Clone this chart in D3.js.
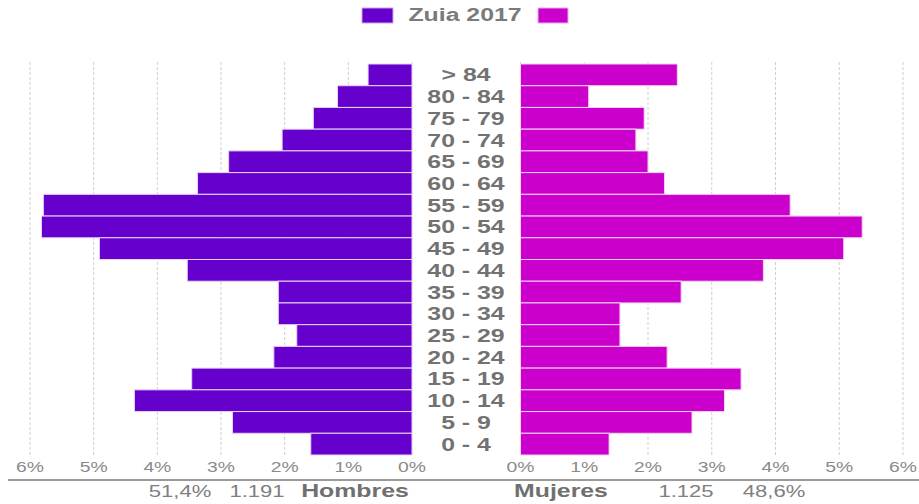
<!DOCTYPE html>
<meta charset="utf-8">
<script src="https://d3js.org/d3.v7.min.js"></script>
<style>
  body { margin: 0; background: #fff; }
  text { font-family: "Liberation Sans", Arial, sans-serif; }
</style>
<div id="chart"></div>
<script>

var ages = ["> 84", "80 - 84", "75 - 79", "70 - 74", "65 - 69", "60 - 64", "55 - 59", "50 - 54", "45 - 49",
            "40 - 44", "35 - 39", "30 - 34", "25 - 29", "20 - 24", "15 - 19", "10 - 14", "5 - 9", "0 - 4"]
var hombres = [0.69, 1.17, 1.55, 2.04, 2.88, 3.37, 5.79, 5.82, 4.91, 3.53, 2.10, 2.10, 1.81, 2.17, 3.46, 4.36, 2.82, 1.59]
var mujeres = [2.46, 1.07, 1.94, 1.81, 2.00, 2.26, 4.23, 5.36, 5.07, 3.81, 2.52, 1.56, 1.56, 2.30, 3.46, 3.20, 2.69, 1.39]
var tickValues = [0, 1, 2, 3, 4, 5, 6]
var legendTitle = "Zuia 2017"
var totH = ["51,4%", "1.191", "Hombres"]
var totM = ["Mujeres", "1.125", "48,6%"]

var width = 919, height = 504
var sx = 1.38  // text is drawn a bit wide
var cH = "#6600cc", cM = "#cc00cc"

var svg = d3.select("#chart").append("svg")
    .attr("width", width)
    .attr("height", height)

var y = d3.scaleBand().domain(ages).range([64, 455]).padding(0)
var xL = d3.scaleLinear().domain([0, 6]).range([412, 30])
var xR = d3.scaleLinear().domain([0, 6]).range([520.5, 903])

function place(x, yy) { return "translate(" + x + "," + yy + ") scale(" + sx + ",1)" }

// grid
;[xL, xR].forEach(function(x) {
  svg.append("g").selectAll("line")
    .data(tickValues)
    .enter().append("line")
      .attr("x1", function(d){ return x(d) })
      .attr("x2", function(d){ return x(d) })
      .attr("y1", 62)
      .attr("y2", 456)
      .attr("stroke", "#cfcfcf")
      .attr("stroke-width", 1)
      .attr("stroke-dasharray", "3,2")

  svg.append("g").selectAll("text")
    .data(tickValues)
    .enter().append("text")
      .attr("transform", function(d){ return place(x(d), 472) })
      .attr("text-anchor", "middle")
      .style("font-size", "14px")
      .style("fill", "#8a8a8a")
      .text(function(d){ return d + "%" })
})

// bars
svg.append("g").selectAll("rect")
  .data(hombres)
  .enter().append("rect")
    .attr("x", function(d){ return xL(d) })
    .attr("y", function(d, i){ return y(ages[i]) })
    .attr("width", function(d){ return xL(0) - xL(d) })
    .attr("height", y.bandwidth())
    .attr("fill", cH)
    .attr("stroke", "#e6d4f7")
    .attr("stroke-width", 1)

svg.append("g").selectAll("rect")
  .data(mujeres)
  .enter().append("rect")
    .attr("x", xR(0))
    .attr("y", function(d, i){ return y(ages[i]) })
    .attr("width", function(d){ return xR(d) - xR(0) })
    .attr("height", y.bandwidth())
    .attr("fill", cM)
    .attr("stroke", "#f3d4f3")
    .attr("stroke-width", 1)

// age labels
svg.append("g").selectAll("text")
  .data(ages)
  .enter().append("text")
    .attr("transform", function(d){ return place(466, y(d) + y.bandwidth() / 2 + 6.5) })
    .attr("text-anchor", "middle")
    .style("font-size", "18px")
    .style("font-weight", "bold")
    .style("fill", "#727272")
    .text(function(d){ return d })

// legend
svg.append("rect").attr("x", 362).attr("y", 8).attr("width", 31).attr("height", 15)
  .attr("fill", cH).attr("stroke", "#c9a6ef")
svg.append("rect").attr("x", 538).attr("y", 8).attr("width", 30).attr("height", 15)
  .attr("fill", cM).attr("stroke", "#eeaaee")
svg.append("text")
  .attr("transform", place(465, 21))
  .attr("text-anchor", "middle")
  .style("font-size", "18px")
  .style("font-weight", "bold")
  .style("fill", "#7a7a7a")
  .text(legendTitle)

// bottom line and totals
svg.append("line")
  .attr("x1", 8).attr("x2", width)
  .attr("y1", 480).attr("y2", 480)
  .attr("stroke", "#9a9a9a").attr("stroke-width", 2)

var totX = [180, 257, 355, 561, 686, 774]
var totals = totH.concat(totM)
svg.append("g").selectAll("text")
  .data(totals)
  .enter().append("text")
    .attr("transform", function(d, i){ return place(totX[i], 497) })
    .attr("text-anchor", "middle")
    .style("font-size", function(d, i){ return (i == 2 || i == 3) ? "18px" : "16px" })
    .style("font-weight", function(d, i){ return (i == 2 || i == 3) ? "bold" : "normal" })
    .style("fill", function(d, i){ return (i == 2 || i == 3) ? "#707070" : "#808080" })
    .text(function(d){ return d })

</script>
